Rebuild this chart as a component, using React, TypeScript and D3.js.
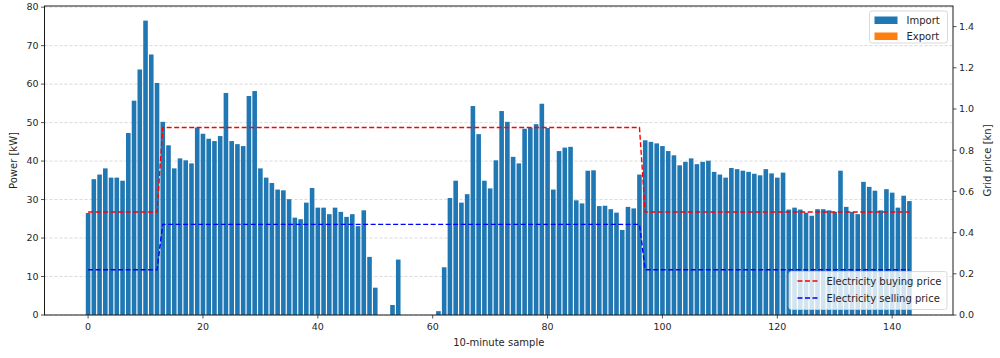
import React from 'react'
import * as d3 from 'd3'

/** Grid import per 10-minute sample [kW] (0..143) */
const importPower: number[] = [
    26.5, 35.3, 36.5, 38.1, 35.7, 35.7, 34.9, 47.3, 55.7, 63.8,
    76.5, 67.7, 60.3, 50.2, 44.1, 38.1, 40.7, 40.2, 39.4, 48.7,
    47.1, 45.8, 45.2, 46.5, 57.7, 45.2, 44.4, 43.9, 56.9, 58.2,
    38.1, 35.7, 34.3, 32.6, 32.4, 30.1, 25.3, 24.9, 29.2, 33.0,
    27.9, 27.9, 26.2, 27.9, 26.8, 25.5, 26.2, 23.1, 27.2, 15.1,
    7.1, 0, 0, 2.6, 14.4, 0, 0, 0, 0, 0,
    0, 1.0, 12.4, 30.4, 34.9, 29.2, 31.4, 54.3, 47.0, 34.9,
    32.9, 40.2, 53.0, 50.2, 41.1, 39.4, 48.4, 48.7, 49.6, 54.9,
    48.6, 32.6, 42.6, 43.5, 43.7, 29.8, 29.0, 37.5, 37.6, 28.3,
    28.4, 27.5, 26.6, 22.1, 28.1, 27.7, 36.5, 45.4, 45.0, 44.6,
    43.9, 42.6, 41.5, 38.9, 39.8, 40.7, 39.2, 39.8, 40.1, 37.2,
    36.5, 35.7, 38.2, 37.9, 37.5, 37.2, 36.7, 36.3, 37.9, 36.8,
    35.7, 37.0, 27.4, 27.9, 27.4, 26.6, 25.8, 27.5, 27.5, 27.2,
    26.8, 37.5, 28.1, 26.8, 26.2, 34.6, 33.3, 32.3, 27.2, 32.7,
    31.8, 27.9, 31.0, 29.6
]

/** Samples where the tariff changes, and the price at those samples [kn] */
const priceSamples: number[] = [0, 12, 13, 96, 97, 143]
const buyingPrice: number[] = [0.5, 0.5, 0.91, 0.91, 0.5, 0.5]
const sellingPrice: number[] = [0.22, 0.22, 0.44, 0.44, 0.22, 0.22]

const xTicks: number[] = [0, 20, 40, 60, 80, 100, 120, 140]
const powerTicks: number[] = [0, 10, 20, 30, 40, 50, 60, 70, 80]
const priceTicks: number[] = [0, 0.2, 0.4, 0.6, 0.8, 1.0, 1.2, 1.4]

const WIDTH = 1000
const HEIGHT = 358
const LEFT = 44.5
const RIGHT = 953
const TOP = 6
const BOTTOM = 315

const FONT = '"DejaVu Sans", sans-serif'
const TEXT = '#262626'
const BLUE = '#1f77b4'
const ORANGE = '#ff7f0e'

const x = d3.scaleLinear().domain([-7.59, 150.59]).range([LEFT, RIGHT])
const yPower = d3.scaleLinear().domain([0, 80.3]).range([BOTTOM, TOP])
const yPrice = d3.scaleLinear().domain([0, 1.5]).range([BOTTOM, TOP])

const priceLine = (values: number[]) => d3.line<number>()
    .x((_, i) => x(priceSamples[i]))
    .y((v) => yPrice(v))(values)

const Bars = () => {
    const w = x(0.4) - x(-0.4)
    return (
        <g>
            {importPower.map((v, i) => (
                <rect
                    key={i}
                    x={x(i) - w / 2}
                    y={yPower(v)}
                    width={w}
                    height={yPower(0) - yPower(v)}
                    fill={BLUE}
                />
            ))}
        </g>
    )
}

const Grid = () => (
    <g>
        {powerTicks.map((t) => (
            <line
                key={t}
                x1={LEFT}
                x2={RIGHT}
                y1={yPower(t)}
                y2={yPower(t)}
                stroke='#cfcfcf'
                strokeWidth={0.8}
                strokeDasharray='3,2'
            />
        ))}
    </g>
)

const Axes = () => (
    <g fontFamily={FONT} fill={TEXT}>
        {xTicks.map((t) => (
            <g key={t} transform={`translate(${x(t)},${BOTTOM})`}>
                <line y2={3.5} stroke={TEXT} strokeWidth={0.8} />
                <text y={15} fontSize={9.5} textAnchor='middle'>{t}</text>
            </g>
        ))}
        {powerTicks.map((t) => (
            <g key={t} transform={`translate(${LEFT},${yPower(t)})`}>
                <line x2={-3.5} stroke={TEXT} strokeWidth={0.8} />
                <text x={-6} dy='0.35em' fontSize={9.5} textAnchor='end'>{t}</text>
            </g>
        ))}
        {priceTicks.map((t) => (
            <g key={t} transform={`translate(${RIGHT},${yPrice(t)})`}>
                <line x2={3.5} stroke={TEXT} strokeWidth={0.8} />
                <text x={6} dy='0.35em' fontSize={9.5}>{t.toFixed(1)}</text>
            </g>
        ))}
        <text x={(LEFT + RIGHT) / 2} y={346} fontSize={10} textAnchor='middle'>10-minute sample</text>
        <text transform={`translate(17,${(TOP + BOTTOM) / 2}) rotate(-90)`} fontSize={10} textAnchor='middle'>Power [kW]</text>
        <text transform={`translate(991,${(TOP + BOTTOM) / 2}) rotate(-90)`} fontSize={10} textAnchor='middle'>Grid price [kn]</text>
    </g>
)

const BarLegend = () => (
    <g fontFamily={FONT} fontSize={10} fill={TEXT}>
        <rect x={869.5} y={11} width={78} height={32} rx={2.5} fill='white' fillOpacity={0.8} stroke='#d0d0d0' strokeWidth={0.8} />
        <rect x={874.5} y={16.5} width={23} height={7.5} fill={BLUE} />
        <text x={906.5} y={20.5} dy='0.35em'>Import</text>
        <rect x={874.5} y={32.5} width={23} height={7.5} fill={ORANGE} />
        <text x={906.5} y={36.5} dy='0.35em'>Export</text>
    </g>
)

const PriceLegend = () => (
    <g fontFamily={FONT} fontSize={10} fill={TEXT}>
        <rect x={789} y={271.5} width={158} height={38} rx={2.5} fill='white' fillOpacity={0.8} stroke='#d0d0d0' strokeWidth={0.8} />
        <line x1={797.5} x2={818} y1={281} y2={281} stroke='red' strokeWidth={1.4} strokeDasharray='5,2.5' />
        <text x={826.5} y={281} dy='0.35em'>Electricity buying price</text>
        <line x1={797.5} x2={818} y1={298} y2={298} stroke='blue' strokeWidth={1.4} strokeDasharray='5,2.5' />
        <text x={826.5} y={298} dy='0.35em'>Electricity selling price</text>
    </g>
)

export default function App () {
    return (
        <div>
            <style>{'body { margin: 0; }'}</style>
            <svg width={WIDTH} height={HEIGHT} style={{ display: 'block', background: 'white' }}>
                <Grid />
                <Bars />
                <rect x={LEFT} y={TOP} width={RIGHT - LEFT} height={BOTTOM - TOP} fill='none' stroke='#1a1a1a' strokeWidth={1} />
                <Axes />
                <BarLegend />
                <path d={priceLine(buyingPrice)} fill='none' stroke='red' strokeWidth={1.4} strokeDasharray='5,2.5' />
                <path d={priceLine(sellingPrice)} fill='none' stroke='blue' strokeWidth={1.4} strokeDasharray='5,2.5' />
                <PriceLegend />
            </svg>
        </div>
    )
}
